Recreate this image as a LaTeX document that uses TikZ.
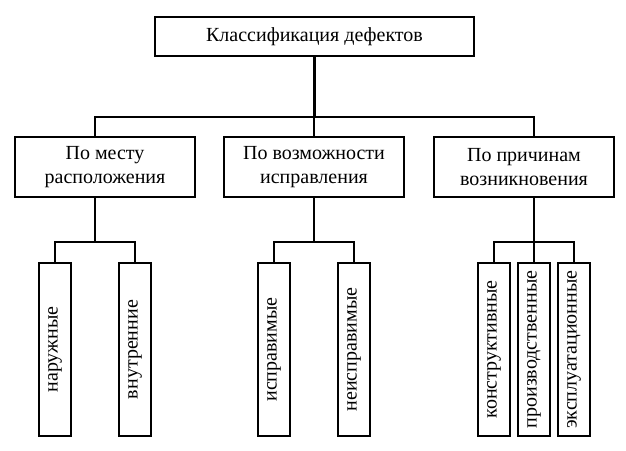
\documentclass[tikz,border=0pt]{standalone}
\usepackage{fontspec}
\setmainfont{Liberation Serif}
\usetikzlibrary{calc}
\tikzset{
  box/.style={draw, line width=2.2pt, align=center, inner sep=0pt, font=\fontsize{20}{23.5}\selectfont},
  topbox/.style={box, minimum width=319pt, minimum height=39pt},
  midbox/.style={box, minimum width=180pt, minimum height=60pt},
  leaf/.style={box, minimum width=32pt, minimum height=173pt},
  wire/.style={line width=2.2pt},
}
\begin{document}
\begin{tikzpicture}[x=1pt,y=-1pt]
\useasboundingbox (0,0) rectangle (626,450);
\node[topbox] (top) at (314.5,36.5) {Классификация дефектов};
\node[midbox] (b1) at (105,167) {По месту\\расположения};
\node[midbox] (b2) at (314,167) {По возможности\\исправления};
\node[midbox] (b3) at (524,167) {По причинам\\возникновения};
\node[leaf] (l1) at (55,349.5) {\rotatebox{90}{наружные}};
\node[leaf] (l2) at (135,349.5) {\rotatebox{90}{внутренние}};
\node[leaf] (l3) at (274,349.5) {\rotatebox{90}{исправимые}};
\node[leaf] (l4) at (354,349.5) {\rotatebox{90}{неисправимые}};
\node[leaf] (l5) at (494,349.5) {\rotatebox{90}{конструктивные}};
\node[leaf] (l6) at (534,349.5) {\rotatebox{90}{производственные}};
\node[leaf] (l7) at (574,349.5) {\rotatebox{90}{эксплуатационные}};
% top bus
\coordinate (busL) at (95,117);
\coordinate (busR) at (534,117);
\draw[wire] (top.south) -- (top.south |- busL);
\draw[wire] (b1.north -| busL) -- (busL) -- (busR) -- (b3.north -| busR);
\draw[wire] (b2.north) -- (b2.north |- busL);
% group 1
\coordinate (k1) at ($(l1.north)!0.5!(l2.north)+(0,-20)$);
\draw[wire] (l1.north) -- ++(0,-20) -| (l2.north);
\draw[wire] (b1.south -| k1) -- (k1);
% group 2
\coordinate (k2) at ($(l3.north)!0.5!(l4.north)+(0,-20)$);
\draw[wire] (l3.north) -- ++(0,-20) -| (l4.north);
\draw[wire] (b2.south) -- (b2.south |- k2);
% group 3
\draw[wire] (l5.north) -- ++(0,-20) -| (l7.north);
\draw[wire] (l6.north) -- (l6.north |- b3.south);
\end{tikzpicture}
\end{document}
